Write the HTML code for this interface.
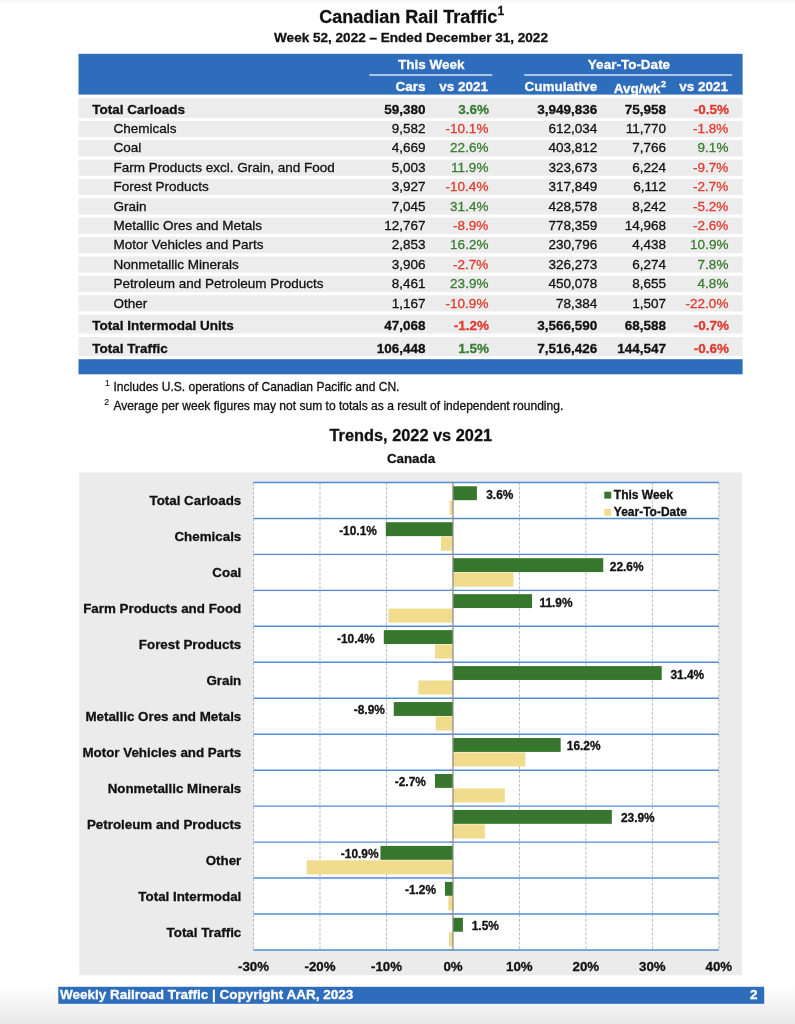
<!DOCTYPE html>
<html lang="en">
<head>
<meta charset="utf-8">
<title>Canadian Rail Traffic</title>
<style>
html,body{margin:0;padding:0;background:#fff;}
body{width:795px;height:1024px;overflow:hidden;position:relative;font-family:"Liberation Sans",Arial,Helvetica,sans-serif;}
.shade-top{position:absolute;left:0;top:0;width:795px;height:4px;background:linear-gradient(to bottom,#f4f4f4,#ffffff);}
.shade-bot{position:absolute;left:0;top:984px;width:795px;height:40px;background:linear-gradient(to bottom,#ffffff,#e9e9e9);}
svg{position:absolute;left:0;top:0;display:block;}
svg text{font-family:"Liberation Sans",Arial,Helvetica,sans-serif;stroke-width:0.3px;}
</style>
</head>
<body>
<div class="shade-top"></div>
<div class="shade-bot"></div>
<svg width="795" height="1024" viewBox="0 0 795 1024">
<g id="title">
<text x="319.2" y="23.4" font-size="18" font-weight="bold" fill="#111" stroke="#111">Canadian Rail Traffic<tspan font-size="12" dy="-8.2" dx="0.3">1</tspan></text>
<text x="411" y="41.5" font-size="13.55" font-weight="bold" fill="#111" stroke="#111" text-anchor="middle">Week 52, 2022 – Ended December 31, 2022</text>
</g>
<g id="table">
<rect x="78.50" y="53.80" width="664.10" height="40.80" fill="#2e6cbc"/>
<text x="431.3" y="69.4" font-size="13.5" font-weight="bold" fill="#fff" stroke="#fff" text-anchor="middle">This Week</text>
<text x="629" y="69.4" font-size="13.5" font-weight="bold" fill="#fff" stroke="#fff" text-anchor="middle">Year-To-Date</text>
<rect x="369.30" y="74.40" width="123.00" height="1.20" fill="#fff"/>
<rect x="524.30" y="74.40" width="207.90" height="1.20" fill="#fff"/>
<text x="425.6" y="90.8" font-size="13.5" font-weight="bold" fill="#fff" stroke="#fff" text-anchor="end">Cars</text>
<text x="488" y="90.8" font-size="13.5" font-weight="bold" fill="#fff" stroke="#fff" text-anchor="end">vs 2021</text>
<text x="597.2" y="90.8" font-size="13.5" font-weight="bold" fill="#fff" stroke="#fff" text-anchor="end">Cumulative</text>
<text x="613.8" y="92.5" font-size="13.5" font-weight="bold" fill="#fff" stroke="#fff">Avg/wk<tspan font-size="9" dy="-5.6" dx="0.4">2</tspan></text>
<text x="728" y="90.8" font-size="13.5" font-weight="bold" fill="#fff" stroke="#fff" text-anchor="end">vs 2021</text>
<rect x="78.50" y="98.10" width="664.10" height="19.90" fill="#ececec"/>
<text x="92.2" y="113.6" font-size="13.5" font-weight="bold" fill="#111" stroke="#111">Total Carloads</text>
<text x="425.6" y="113.6" font-size="13.5" font-weight="bold" fill="#111" stroke="#111" text-anchor="end">59,380</text>
<text x="489" y="113.6" font-size="13.5" font-weight="bold" fill="#3a7d32" stroke="#3a7d32" text-anchor="end">3.6%</text>
<text x="597.2" y="113.6" font-size="13.5" font-weight="bold" fill="#111" stroke="#111" text-anchor="end">3,949,836</text>
<text x="666" y="113.6" font-size="13.5" font-weight="bold" fill="#111" stroke="#111" text-anchor="end">75,958</text>
<text x="729" y="113.6" font-size="13.5" font-weight="bold" fill="#e0392d" stroke="#e0392d" text-anchor="end">-0.5%</text>
<rect x="78.50" y="120.85" width="664.10" height="16.15" fill="#ececec"/>
<text x="113.5" y="132.9" font-size="13.5" fill="#111" stroke="#111">Chemicals</text>
<text x="425.6" y="132.9" font-size="13.5" fill="#111" stroke="#111" text-anchor="end">9,582</text>
<text x="488.4" y="132.9" font-size="13.5" fill="#e0392d" stroke="#e0392d" text-anchor="end">-10.1%</text>
<text x="597.2" y="132.9" font-size="13.5" fill="#111" stroke="#111" text-anchor="end">612,034</text>
<text x="666" y="132.9" font-size="13.5" fill="#111" stroke="#111" text-anchor="end">11,770</text>
<text x="728.4" y="132.9" font-size="13.5" fill="#e0392d" stroke="#e0392d" text-anchor="end">-1.8%</text>
<rect x="78.50" y="140.23" width="664.10" height="16.15" fill="#ececec"/>
<text x="113.5" y="152.3" font-size="13.5" fill="#111" stroke="#111">Coal</text>
<text x="425.6" y="152.3" font-size="13.5" fill="#111" stroke="#111" text-anchor="end">4,669</text>
<text x="488.4" y="152.3" font-size="13.5" fill="#3a7d32" stroke="#3a7d32" text-anchor="end">22.6%</text>
<text x="597.2" y="152.3" font-size="13.5" fill="#111" stroke="#111" text-anchor="end">403,812</text>
<text x="666" y="152.3" font-size="13.5" fill="#111" stroke="#111" text-anchor="end">7,766</text>
<text x="728.4" y="152.3" font-size="13.5" fill="#3a7d32" stroke="#3a7d32" text-anchor="end">9.1%</text>
<rect x="78.50" y="159.61" width="664.10" height="16.15" fill="#ececec"/>
<text x="113.5" y="171.7" font-size="13.5" fill="#111" stroke="#111">Farm Products excl. Grain, and Food</text>
<text x="425.6" y="171.7" font-size="13.5" fill="#111" stroke="#111" text-anchor="end">5,003</text>
<text x="488.4" y="171.7" font-size="13.5" fill="#3a7d32" stroke="#3a7d32" text-anchor="end">11.9%</text>
<text x="597.2" y="171.7" font-size="13.5" fill="#111" stroke="#111" text-anchor="end">323,673</text>
<text x="666" y="171.7" font-size="13.5" fill="#111" stroke="#111" text-anchor="end">6,224</text>
<text x="728.4" y="171.7" font-size="13.5" fill="#e0392d" stroke="#e0392d" text-anchor="end">-9.7%</text>
<rect x="78.50" y="178.99" width="664.10" height="16.15" fill="#ececec"/>
<text x="113.5" y="191.1" font-size="13.5" fill="#111" stroke="#111">Forest Products</text>
<text x="425.6" y="191.1" font-size="13.5" fill="#111" stroke="#111" text-anchor="end">3,927</text>
<text x="488.4" y="191.1" font-size="13.5" fill="#e0392d" stroke="#e0392d" text-anchor="end">-10.4%</text>
<text x="597.2" y="191.1" font-size="13.5" fill="#111" stroke="#111" text-anchor="end">317,849</text>
<text x="666" y="191.1" font-size="13.5" fill="#111" stroke="#111" text-anchor="end">6,112</text>
<text x="728.4" y="191.1" font-size="13.5" fill="#e0392d" stroke="#e0392d" text-anchor="end">-2.7%</text>
<rect x="78.50" y="198.37" width="664.10" height="16.15" fill="#ececec"/>
<text x="113.5" y="210.5" font-size="13.5" fill="#111" stroke="#111">Grain</text>
<text x="425.6" y="210.5" font-size="13.5" fill="#111" stroke="#111" text-anchor="end">7,045</text>
<text x="488.4" y="210.5" font-size="13.5" fill="#3a7d32" stroke="#3a7d32" text-anchor="end">31.4%</text>
<text x="597.2" y="210.5" font-size="13.5" fill="#111" stroke="#111" text-anchor="end">428,578</text>
<text x="666" y="210.5" font-size="13.5" fill="#111" stroke="#111" text-anchor="end">8,242</text>
<text x="728.4" y="210.5" font-size="13.5" fill="#e0392d" stroke="#e0392d" text-anchor="end">-5.2%</text>
<rect x="78.50" y="217.75" width="664.10" height="16.15" fill="#ececec"/>
<text x="113.5" y="229.9" font-size="13.5" fill="#111" stroke="#111">Metallic Ores and Metals</text>
<text x="425.6" y="229.9" font-size="13.5" fill="#111" stroke="#111" text-anchor="end">12,767</text>
<text x="488.4" y="229.9" font-size="13.5" fill="#e0392d" stroke="#e0392d" text-anchor="end">-8.9%</text>
<text x="597.2" y="229.9" font-size="13.5" fill="#111" stroke="#111" text-anchor="end">778,359</text>
<text x="666" y="229.9" font-size="13.5" fill="#111" stroke="#111" text-anchor="end">14,968</text>
<text x="728.4" y="229.9" font-size="13.5" fill="#e0392d" stroke="#e0392d" text-anchor="end">-2.6%</text>
<rect x="78.50" y="237.13" width="664.10" height="16.15" fill="#ececec"/>
<text x="113.5" y="249.4" font-size="13.5" fill="#111" stroke="#111">Motor Vehicles and Parts</text>
<text x="425.6" y="249.4" font-size="13.5" fill="#111" stroke="#111" text-anchor="end">2,853</text>
<text x="488.4" y="249.4" font-size="13.5" fill="#3a7d32" stroke="#3a7d32" text-anchor="end">16.2%</text>
<text x="597.2" y="249.4" font-size="13.5" fill="#111" stroke="#111" text-anchor="end">230,796</text>
<text x="666" y="249.4" font-size="13.5" fill="#111" stroke="#111" text-anchor="end">4,438</text>
<text x="728.4" y="249.4" font-size="13.5" fill="#3a7d32" stroke="#3a7d32" text-anchor="end">10.9%</text>
<rect x="78.50" y="256.51" width="664.10" height="16.15" fill="#ececec"/>
<text x="113.5" y="268.8" font-size="13.5" fill="#111" stroke="#111">Nonmetallic Minerals</text>
<text x="425.6" y="268.8" font-size="13.5" fill="#111" stroke="#111" text-anchor="end">3,906</text>
<text x="488.4" y="268.8" font-size="13.5" fill="#e0392d" stroke="#e0392d" text-anchor="end">-2.7%</text>
<text x="597.2" y="268.8" font-size="13.5" fill="#111" stroke="#111" text-anchor="end">326,273</text>
<text x="666" y="268.8" font-size="13.5" fill="#111" stroke="#111" text-anchor="end">6,274</text>
<text x="728.4" y="268.8" font-size="13.5" fill="#3a7d32" stroke="#3a7d32" text-anchor="end">7.8%</text>
<rect x="78.50" y="275.89" width="664.10" height="16.15" fill="#ececec"/>
<text x="113.5" y="288.2" font-size="13.5" fill="#111" stroke="#111">Petroleum and Petroleum Products</text>
<text x="425.6" y="288.2" font-size="13.5" fill="#111" stroke="#111" text-anchor="end">8,461</text>
<text x="488.4" y="288.2" font-size="13.5" fill="#3a7d32" stroke="#3a7d32" text-anchor="end">23.9%</text>
<text x="597.2" y="288.2" font-size="13.5" fill="#111" stroke="#111" text-anchor="end">450,078</text>
<text x="666" y="288.2" font-size="13.5" fill="#111" stroke="#111" text-anchor="end">8,655</text>
<text x="728.4" y="288.2" font-size="13.5" fill="#3a7d32" stroke="#3a7d32" text-anchor="end">4.8%</text>
<rect x="78.50" y="295.27" width="664.10" height="16.15" fill="#ececec"/>
<text x="113.5" y="307.6" font-size="13.5" fill="#111" stroke="#111">Other</text>
<text x="425.6" y="307.6" font-size="13.5" fill="#111" stroke="#111" text-anchor="end">1,167</text>
<text x="488.4" y="307.6" font-size="13.5" fill="#e0392d" stroke="#e0392d" text-anchor="end">-10.9%</text>
<text x="597.2" y="307.6" font-size="13.5" fill="#111" stroke="#111" text-anchor="end">78,384</text>
<text x="666" y="307.6" font-size="13.5" fill="#111" stroke="#111" text-anchor="end">1,507</text>
<text x="728.4" y="307.6" font-size="13.5" fill="#e0392d" stroke="#e0392d" text-anchor="end">-22.0%</text>
<rect x="78.50" y="314.70" width="664.10" height="18.90" fill="#ececec"/>
<text x="92.2" y="330.3" font-size="13.5" font-weight="bold" fill="#111" stroke="#111">Total Intermodal Units</text>
<text x="425.6" y="330.3" font-size="13.5" font-weight="bold" fill="#111" stroke="#111" text-anchor="end">47,068</text>
<text x="489" y="330.3" font-size="13.5" font-weight="bold" fill="#e0392d" stroke="#e0392d" text-anchor="end">-1.2%</text>
<text x="597.2" y="330.3" font-size="13.5" font-weight="bold" fill="#111" stroke="#111" text-anchor="end">3,566,590</text>
<text x="666" y="330.3" font-size="13.5" font-weight="bold" fill="#111" stroke="#111" text-anchor="end">68,588</text>
<text x="729" y="330.3" font-size="13.5" font-weight="bold" fill="#e0392d" stroke="#e0392d" text-anchor="end">-0.7%</text>
<rect x="78.50" y="337.10" width="664.10" height="18.90" fill="#ececec"/>
<text x="92.2" y="352.5" font-size="13.5" font-weight="bold" fill="#111" stroke="#111">Total Traffic</text>
<text x="425.6" y="352.5" font-size="13.5" font-weight="bold" fill="#111" stroke="#111" text-anchor="end">106,448</text>
<text x="489" y="352.5" font-size="13.5" font-weight="bold" fill="#3a7d32" stroke="#3a7d32" text-anchor="end">1.5%</text>
<text x="597.2" y="352.5" font-size="13.5" font-weight="bold" fill="#111" stroke="#111" text-anchor="end">7,516,426</text>
<text x="666" y="352.5" font-size="13.5" font-weight="bold" fill="#111" stroke="#111" text-anchor="end">144,547</text>
<text x="729" y="352.5" font-size="13.5" font-weight="bold" fill="#e0392d" stroke="#e0392d" text-anchor="end">-0.6%</text>
<rect x="78.50" y="359.20" width="664.10" height="15.10" fill="#2e6cbc"/>
</g>
<g id="notes">
<text x="104.9" y="385.9" font-size="8.6" fill="#111" stroke="#111" style="stroke-width:0.15px">1</text>
<text x="113.5" y="391.4" font-size="12.05" fill="#111" stroke="#111">Includes U.S. operations of Canadian Pacific and CN.</text>
<text x="104.3" y="404.8" font-size="8.6" fill="#111" stroke="#111" style="stroke-width:0.15px">2</text>
<text x="113.5" y="410.3" font-size="12.05" fill="#111" stroke="#111">Average per week figures may not sum to totals as a result of independent rounding.</text>
</g>
<g id="chart">
<text x="410.8" y="440.9" font-size="16.33" font-weight="bold" fill="#111" stroke="#111" text-anchor="middle">Trends, 2022 vs 2021</text>
<text x="411" y="462.5" font-size="13.35" font-weight="bold" fill="#111" stroke="#111" text-anchor="middle">Canada</text>
<rect x="79.30" y="472.60" width="662.50" height="502.70" fill="#ebebeb"/>
<rect x="253.50" y="482.45" width="465.40" height="467.55" fill="#fff"/>
<line x1="253.50" y1="482.45" x2="253.50" y2="950.0" stroke="#b4b4b4" stroke-width="0.9" stroke-dasharray="3,1.5"/>
<line x1="319.99" y1="482.45" x2="319.99" y2="950.0" stroke="#b4b4b4" stroke-width="0.9" stroke-dasharray="3,1.5"/>
<line x1="386.47" y1="482.45" x2="386.47" y2="950.0" stroke="#b4b4b4" stroke-width="0.9" stroke-dasharray="3,1.5"/>
<line x1="519.44" y1="482.45" x2="519.44" y2="950.0" stroke="#b4b4b4" stroke-width="0.9" stroke-dasharray="3,1.5"/>
<line x1="585.93" y1="482.45" x2="585.93" y2="950.0" stroke="#b4b4b4" stroke-width="0.9" stroke-dasharray="3,1.5"/>
<line x1="652.41" y1="482.45" x2="652.41" y2="950.0" stroke="#b4b4b4" stroke-width="0.9" stroke-dasharray="3,1.5"/>
<line x1="718.90" y1="482.45" x2="718.90" y2="950.0" stroke="#b4b4b4" stroke-width="0.9" stroke-dasharray="3,1.5"/>
<rect x="452.96" y="486.25" width="23.93" height="13.90" fill="#37762d"/>
<rect x="449.63" y="500.65" width="3.32" height="14.10" fill="#f0dc8c"/>
<rect x="385.81" y="522.22" width="67.15" height="13.90" fill="#37762d"/>
<rect x="440.99" y="536.62" width="11.97" height="14.10" fill="#f0dc8c"/>
<rect x="452.96" y="558.18" width="150.26" height="13.90" fill="#37762d"/>
<rect x="452.96" y="572.58" width="60.50" height="14.10" fill="#f0dc8c"/>
<rect x="452.96" y="594.15" width="79.12" height="13.90" fill="#37762d"/>
<rect x="388.47" y="608.55" width="64.49" height="14.10" fill="#f0dc8c"/>
<rect x="383.81" y="630.11" width="69.15" height="13.90" fill="#37762d"/>
<rect x="435.01" y="644.51" width="17.95" height="14.10" fill="#f0dc8c"/>
<rect x="452.96" y="666.08" width="208.77" height="13.90" fill="#37762d"/>
<rect x="418.38" y="680.48" width="34.57" height="14.10" fill="#f0dc8c"/>
<rect x="393.78" y="702.04" width="59.17" height="13.90" fill="#37762d"/>
<rect x="435.67" y="716.44" width="17.29" height="14.10" fill="#f0dc8c"/>
<rect x="452.96" y="738.01" width="107.71" height="13.90" fill="#37762d"/>
<rect x="452.96" y="752.41" width="72.47" height="14.10" fill="#f0dc8c"/>
<rect x="435.01" y="773.97" width="17.95" height="13.90" fill="#37762d"/>
<rect x="452.96" y="788.37" width="51.86" height="14.10" fill="#f0dc8c"/>
<rect x="452.96" y="809.94" width="158.90" height="13.90" fill="#37762d"/>
<rect x="452.96" y="824.34" width="31.91" height="14.10" fill="#f0dc8c"/>
<rect x="380.49" y="845.90" width="72.47" height="13.90" fill="#37762d"/>
<rect x="306.69" y="860.30" width="146.27" height="14.10" fill="#f0dc8c"/>
<rect x="444.98" y="881.87" width="7.98" height="13.90" fill="#37762d"/>
<rect x="448.30" y="896.27" width="4.65" height="14.10" fill="#f0dc8c"/>
<rect x="452.96" y="917.83" width="9.97" height="13.90" fill="#37762d"/>
<rect x="448.97" y="932.23" width="3.99" height="14.10" fill="#f0dc8c"/>
<line x1="253.5" y1="482.45" x2="718.9" y2="482.45" stroke="#4f8cd4" stroke-width="1.45"/>
<line x1="253.5" y1="518.42" x2="718.9" y2="518.42" stroke="#4f8cd4" stroke-width="1.45"/>
<line x1="253.5" y1="554.38" x2="718.9" y2="554.38" stroke="#4f8cd4" stroke-width="1.45"/>
<line x1="253.5" y1="590.35" x2="718.9" y2="590.35" stroke="#4f8cd4" stroke-width="1.45"/>
<line x1="253.5" y1="626.31" x2="718.9" y2="626.31" stroke="#4f8cd4" stroke-width="1.45"/>
<line x1="253.5" y1="662.28" x2="718.9" y2="662.28" stroke="#4f8cd4" stroke-width="1.45"/>
<line x1="253.5" y1="698.24" x2="718.9" y2="698.24" stroke="#4f8cd4" stroke-width="1.45"/>
<line x1="253.5" y1="734.21" x2="718.9" y2="734.21" stroke="#4f8cd4" stroke-width="1.45"/>
<line x1="253.5" y1="770.17" x2="718.9" y2="770.17" stroke="#4f8cd4" stroke-width="1.45"/>
<line x1="253.5" y1="806.14" x2="718.9" y2="806.14" stroke="#4f8cd4" stroke-width="1.45"/>
<line x1="253.5" y1="842.10" x2="718.9" y2="842.10" stroke="#4f8cd4" stroke-width="1.45"/>
<line x1="253.5" y1="878.07" x2="718.9" y2="878.07" stroke="#4f8cd4" stroke-width="1.45"/>
<line x1="253.5" y1="914.03" x2="718.9" y2="914.03" stroke="#4f8cd4" stroke-width="1.45"/>
<line x1="253.5" y1="950.00" x2="718.9" y2="950.00" stroke="#4f8cd4" stroke-width="1.45"/>
<line x1="452.96" y1="482.45" x2="452.96" y2="950.0" stroke="#8e8e8e" stroke-width="1.3"/>
<line x1="449.36" y1="482.45" x2="452.96" y2="482.45" stroke="#8e8e8e" stroke-width="1.2"/>
<line x1="449.36" y1="518.42" x2="452.96" y2="518.42" stroke="#8e8e8e" stroke-width="1.2"/>
<line x1="449.36" y1="554.38" x2="452.96" y2="554.38" stroke="#8e8e8e" stroke-width="1.2"/>
<line x1="449.36" y1="590.35" x2="452.96" y2="590.35" stroke="#8e8e8e" stroke-width="1.2"/>
<line x1="449.36" y1="626.31" x2="452.96" y2="626.31" stroke="#8e8e8e" stroke-width="1.2"/>
<line x1="449.36" y1="662.28" x2="452.96" y2="662.28" stroke="#8e8e8e" stroke-width="1.2"/>
<line x1="449.36" y1="698.24" x2="452.96" y2="698.24" stroke="#8e8e8e" stroke-width="1.2"/>
<line x1="449.36" y1="734.21" x2="452.96" y2="734.21" stroke="#8e8e8e" stroke-width="1.2"/>
<line x1="449.36" y1="770.17" x2="452.96" y2="770.17" stroke="#8e8e8e" stroke-width="1.2"/>
<line x1="449.36" y1="806.14" x2="452.96" y2="806.14" stroke="#8e8e8e" stroke-width="1.2"/>
<line x1="449.36" y1="842.10" x2="452.96" y2="842.10" stroke="#8e8e8e" stroke-width="1.2"/>
<line x1="449.36" y1="878.07" x2="452.96" y2="878.07" stroke="#8e8e8e" stroke-width="1.2"/>
<line x1="449.36" y1="914.03" x2="452.96" y2="914.03" stroke="#8e8e8e" stroke-width="1.2"/>
<line x1="449.36" y1="950.00" x2="452.96" y2="950.00" stroke="#8e8e8e" stroke-width="1.2"/>
<text x="241.3" y="505.1" font-size="13.36" font-weight="bold" fill="#111" stroke="#111" text-anchor="end">Total Carloads</text>
<text x="499.8" y="498.6" font-size="11.9" font-weight="bold" fill="#111" stroke="#111" text-anchor="middle">3.6%</text>
<text x="241.3" y="541.0" font-size="13.36" font-weight="bold" fill="#111" stroke="#111" text-anchor="end">Chemicals</text>
<text x="358.0" y="534.6" font-size="11.9" font-weight="bold" fill="#111" stroke="#111" text-anchor="middle">-10.1%</text>
<text x="241.3" y="577.0" font-size="13.36" font-weight="bold" fill="#111" stroke="#111" text-anchor="end">Coal</text>
<text x="626.7" y="570.6" font-size="11.9" font-weight="bold" fill="#111" stroke="#111" text-anchor="middle">22.6%</text>
<text x="241.3" y="612.9" font-size="13.36" font-weight="bold" fill="#111" stroke="#111" text-anchor="end">Farm Products and Food</text>
<text x="556.0" y="606.5" font-size="11.9" font-weight="bold" fill="#111" stroke="#111" text-anchor="middle">11.9%</text>
<text x="241.3" y="648.9" font-size="13.36" font-weight="bold" fill="#111" stroke="#111" text-anchor="end">Forest Products</text>
<text x="355.8" y="642.5" font-size="11.9" font-weight="bold" fill="#111" stroke="#111" text-anchor="middle">-10.4%</text>
<text x="241.3" y="684.9" font-size="13.36" font-weight="bold" fill="#111" stroke="#111" text-anchor="end">Grain</text>
<text x="687.3" y="678.5" font-size="11.9" font-weight="bold" fill="#111" stroke="#111" text-anchor="middle">31.4%</text>
<text x="241.3" y="720.8" font-size="13.36" font-weight="bold" fill="#111" stroke="#111" text-anchor="end">Metallic Ores and Metals</text>
<text x="369.3" y="714.4" font-size="11.9" font-weight="bold" fill="#111" stroke="#111" text-anchor="middle">-8.9%</text>
<text x="241.3" y="756.8" font-size="13.36" font-weight="bold" fill="#111" stroke="#111" text-anchor="end">Motor Vehicles and Parts</text>
<text x="583.7" y="750.4" font-size="11.9" font-weight="bold" fill="#111" stroke="#111" text-anchor="middle">16.2%</text>
<text x="241.3" y="792.8" font-size="13.36" font-weight="bold" fill="#111" stroke="#111" text-anchor="end">Nonmetallic Minerals</text>
<text x="410.3" y="786.4" font-size="11.9" font-weight="bold" fill="#111" stroke="#111" text-anchor="middle">-2.7%</text>
<text x="241.3" y="828.7" font-size="13.36" font-weight="bold" fill="#111" stroke="#111" text-anchor="end">Petroleum and Products</text>
<text x="637.8" y="822.3" font-size="11.9" font-weight="bold" fill="#111" stroke="#111" text-anchor="middle">23.9%</text>
<text x="241.3" y="864.7" font-size="13.36" font-weight="bold" fill="#111" stroke="#111" text-anchor="end">Other</text>
<text x="359.7" y="858.3" font-size="11.9" font-weight="bold" fill="#111" stroke="#111" text-anchor="middle">-10.9%</text>
<text x="241.3" y="900.7" font-size="13.36" font-weight="bold" fill="#111" stroke="#111" text-anchor="end">Total Intermodal</text>
<text x="420.5" y="894.3" font-size="11.9" font-weight="bold" fill="#111" stroke="#111" text-anchor="middle">-1.2%</text>
<text x="241.3" y="936.6" font-size="13.36" font-weight="bold" fill="#111" stroke="#111" text-anchor="end">Total Traffic</text>
<text x="485.3" y="930.2" font-size="11.9" font-weight="bold" fill="#111" stroke="#111" text-anchor="middle">1.5%</text>
<text x="253.5" y="970.7" font-size="13.3" font-weight="bold" fill="#111" stroke="#111" text-anchor="middle">-30%</text>
<text x="320.0" y="970.7" font-size="13.3" font-weight="bold" fill="#111" stroke="#111" text-anchor="middle">-20%</text>
<text x="386.5" y="970.7" font-size="13.3" font-weight="bold" fill="#111" stroke="#111" text-anchor="middle">-10%</text>
<text x="453.0" y="970.7" font-size="13.3" font-weight="bold" fill="#111" stroke="#111" text-anchor="middle">0%</text>
<text x="519.4" y="970.7" font-size="13.3" font-weight="bold" fill="#111" stroke="#111" text-anchor="middle">10%</text>
<text x="585.9" y="970.7" font-size="13.3" font-weight="bold" fill="#111" stroke="#111" text-anchor="middle">20%</text>
<text x="652.4" y="970.7" font-size="13.3" font-weight="bold" fill="#111" stroke="#111" text-anchor="middle">30%</text>
<text x="718.9" y="970.7" font-size="13.3" font-weight="bold" fill="#111" stroke="#111" text-anchor="middle">40%</text>
<rect x="604.30" y="491.70" width="6.90" height="6.90" fill="#37762d"/>
<text x="613.8" y="499.2" font-size="12" font-weight="bold" fill="#111" stroke="#111">This Week</text>
<rect x="604.30" y="508.90" width="6.90" height="6.90" fill="#f0dc8c"/>
<text x="613.8" y="516.4" font-size="12" font-weight="bold" fill="#111" stroke="#111">Year-To-Date</text>
</g>
<g id="footer">
<rect x="58.30" y="986.80" width="705.90" height="17.00" fill="#2e6cbc"/>
<text x="60" y="999.0" font-size="13.5" font-weight="bold" fill="#fff" stroke="#fff">Weekly Railroad Traffic | Copyright AAR, 2023</text>
<text x="757.6" y="999.0" font-size="13.5" font-weight="bold" fill="#fff" stroke="#fff" text-anchor="end">2</text>
</g>
</svg>
</body>
</html>
